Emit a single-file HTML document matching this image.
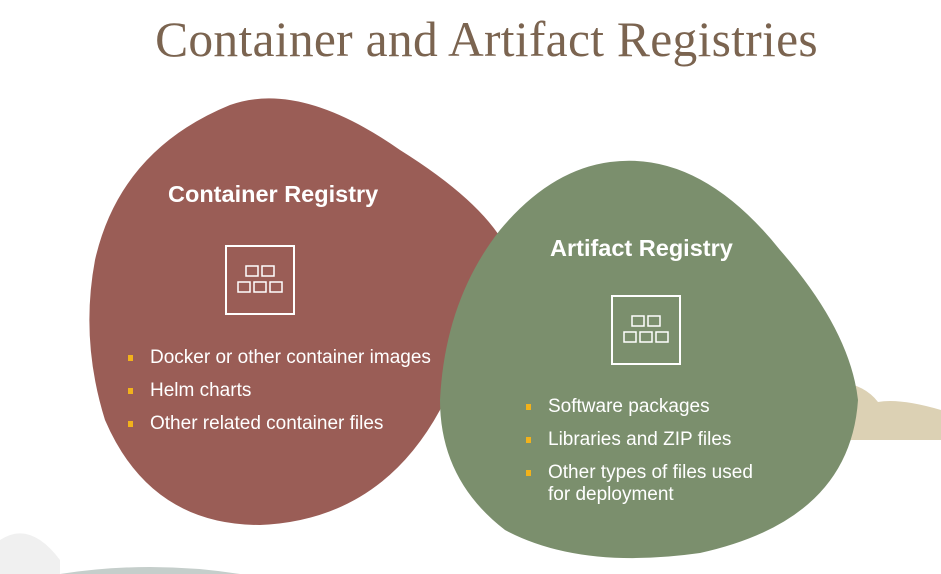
<!DOCTYPE html>
<html><head><style>
body{margin:0;width:941px;height:574px;background:#fff;overflow:hidden;position:relative;font-family:"Liberation Sans",sans-serif}
.t{position:absolute;left:16px;width:941px;top:11px;text-align:center;font-family:"Liberation Serif",serif;font-size:49.5px;color:#7b6450;letter-spacing:0.3px}
.h{position:absolute;color:#fff;font-weight:bold;font-size:23.5px}
ul{position:absolute;margin:0;padding:0;list-style:none;color:#fff;font-size:19px}
li{position:relative;padding-left:24px;margin-bottom:11px;line-height:22px}
li:before{content:"";position:absolute;left:2px;top:8px;width:5px;height:6px;background:#f2b21b}
</style></head><body>
<div class="t">Container and Artifact Registries</div>
<svg width="941" height="574" style="position:absolute;left:0;top:0">
<path d="M0 540 Q30 520 60 560 L60 574 L0 574Z" fill="#f0f0f0"/>
<path d="M60 574 Q150 560 240 574Z" fill="#c5cecb"/>
<path d="M795 420 Q805 380 840 382 Q865 385 878 402 Q900 398 941 410 L941 440 L805 440 Q790 435 795 420Z" fill="#dcd1b4"/>
<path d="M230 105 Q300 80 400 150 Q480 200 505 245 Q480 320 440 410 Q380 520 260 525 Q150 525 105 420 Q80 340 95 260 Q120 150 230 105Z" fill="#9a5d56"/>
<path d="M610 162 Q700 150 780 250 Q850 330 858 400 Q850 520 700 553 Q580 570 505 530 Q440 480 440 400 Q445 300 500 230 Q550 170 610 162Z" fill="#7b8f6d"/>
<g fill="none" stroke="#fff" stroke-width="2">
<rect x="226" y="246" width="68" height="68"/>
<rect x="246" y="266" width="12" height="10" stroke-width="1.5"/><rect x="262" y="266" width="12" height="10" stroke-width="1.5"/>
<rect x="238" y="282" width="12" height="10" stroke-width="1.5"/><rect x="254" y="282" width="12" height="10" stroke-width="1.5"/><rect x="270" y="282" width="12" height="10" stroke-width="1.5"/>
<rect x="612" y="296" width="68" height="68"/>
<rect x="632" y="316" width="12" height="10" stroke-width="1.5"/><rect x="648" y="316" width="12" height="10" stroke-width="1.5"/>
<rect x="624" y="332" width="12" height="10" stroke-width="1.5"/><rect x="640" y="332" width="12" height="10" stroke-width="1.5"/><rect x="656" y="332" width="12" height="10" stroke-width="1.5"/>
</g></svg>
<div class="h" style="left:168px;top:181px">Container Registry</div>
<div class="h" style="left:550px;top:235px">Artifact Registry</div>
<ul style="left:126px;top:347px"><li>Docker or other container images</li><li>Helm charts</li><li>Other related container files</li></ul>
<ul style="left:524px;top:396px"><li>Software packages</li><li>Libraries and ZIP files</li><li>Other types of files used<br>for deployment</li></ul>
</body></html>
